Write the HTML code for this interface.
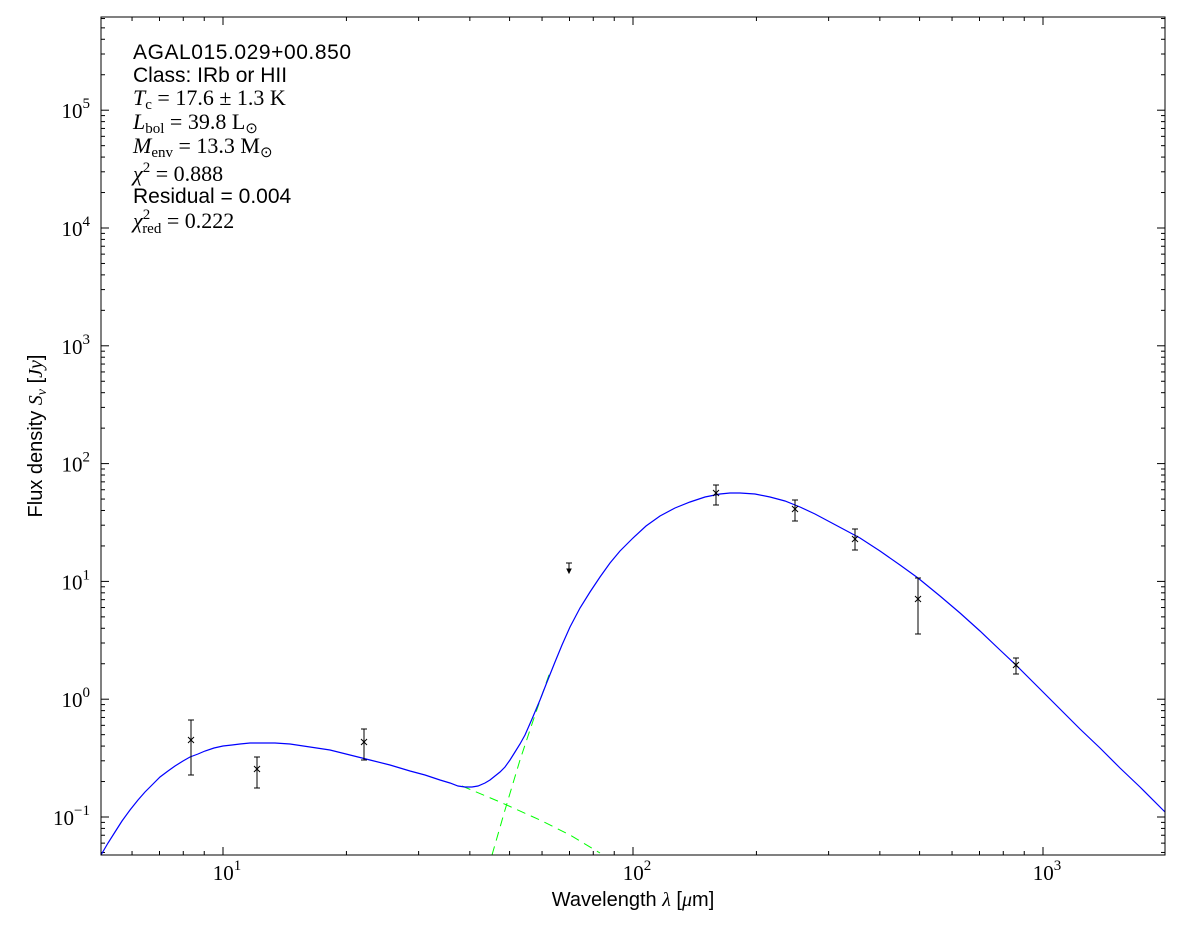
<!DOCTYPE html>
<html><head><meta charset="utf-8"><style>
body{margin:0;background:#fff;}
svg text{font-family:"Liberation Sans",sans-serif;}
svg text.s,svg tspan.s,#lbl text{font-family:"Liberation Serif",serif;}
.s{font-style:italic;}
</style></head><body>
<svg id="g" width="1200" height="933" xmlns="http://www.w3.org/2000/svg">
<rect x="0" y="0" width="1200" height="933" fill="#fff"/>
<g id="ticks" stroke="#000" stroke-width="1"></g>
<polyline fill="none" stroke="#00ff00" stroke-width="1" stroke-dasharray="9,6" points="462,786 500,802 540,820 570,835 600,853"/>
<polyline fill="none" stroke="#00ff00" stroke-width="1" stroke-dasharray="9,6" points="492,855 505,810 520,760 535,715 550,672"/>
<polyline fill="none" stroke="#0000ff" stroke-width="1.2" points="101,855 108,843 115,832 122,821 130,810 138,800 145,792 153,784 160,777 168,771 175,766 183,761 190,757 198,754 205,751 214,748 223,746 232,745 240,744 250,743 260,743 275,743 290,744 310,747 330,750 350,755 370,760 390,765 410,771 425,775 440,780 450,783 458,786 465,787 472,787 478,786 485,783 490,780 495,776 500,772 505,767 510,760 515,752 520,744 525,735 532,719 540,700 547,682 555,662 562,645 570,627 580,608 590,592 600,577 610,563 620,551 633,538 646,526 660,516 675,508 690,502 705,497 720,494 730,493 740,493 755,494 770,497 785,501 800,507 815,514 830,522 845,530 860,538 880,551 900,565 918,578 940,596 960,613 980,631 1000,650 1016,665 1040,689 1060,709 1080,729 1100,748 1120,768 1140,787 1165,812"/>
<g stroke="#000" stroke-width="1" fill="none" id="pts"></g>
<rect x="101" y="17" width="1064" height="838" fill="none" stroke="#000" stroke-width="1"/>
<g font-size="21">
<text x="133" y="59" textLength="218">AGAL015.029+00.850</text>
<text x="133" y="82">Class: IRb or HII</text>
<text x="133" y="105" class="s" font-size="22">T<tspan font-size="15" font-style="normal" dy="4">c</tspan><tspan font-style="normal" dy="-4"> = 17.6 ± 1.3 K</tspan></text>
<text x="133" y="129" class="s" font-size="22">L<tspan font-size="15" font-style="normal" dy="4">bol</tspan><tspan font-style="normal" dy="-4"> = 39.8 L</tspan><tspan font-size="15" font-style="normal" dy="4">⊙</tspan></text>
<text x="133" y="153" class="s" font-size="22">M<tspan font-size="15" font-style="normal" dy="4">env</tspan><tspan font-style="normal" dy="-4"> = 13.3 M</tspan><tspan font-size="15" font-style="normal" dy="4">⊙</tspan></text>
<text x="133" y="181" class="s" font-size="22">χ<tspan font-size="15" font-style="normal" dy="-9">2</tspan><tspan font-style="normal" dy="9"> = 0.888</tspan></text>
<text x="133" y="203">Residual = 0.004</text>
<text x="133" y="228" class="s" font-size="22">χ<tspan font-size="15" font-style="normal" dy="-9">2</tspan><tspan font-size="15" font-style="normal" dx="-8" dy="14">red</tspan><tspan font-style="normal" dy="-5"> = 0.222</tspan></text>
</g>
<text x="633" y="906" font-size="20" text-anchor="middle">Wavelength <tspan class="s">λ</tspan> [<tspan class="s">μ</tspan>m]</text>
<text transform="translate(42,436) rotate(-90)" font-size="20" text-anchor="middle">Flux density <tspan class="s">S<tspan font-size="14" dy="4">ν</tspan></tspan><tspan dy="-4"> [</tspan><tspan class="s">Jy</tspan>]</text>
<g id="lbl" font-size="21"></g>
</svg>
<script>
var NS="http://www.w3.org/2000/svg",T=document.getElementById('ticks'),L=document.getElementById('lbl'),P=document.getElementById('pts');
function ln(p,x1,y1,x2,y2){var e=document.createElementNS(NS,'line');e.setAttribute('x1',x1);e.setAttribute('y1',y1);e.setAttribute('x2',x2);e.setAttribute('y2',y2);p.appendChild(e);}
function tx(x,y,d,a){var e=document.createElementNS(NS,'text');e.setAttribute('x',x);e.setAttribute('y',y);e.setAttribute('text-anchor',a);e.innerHTML=d;L.appendChild(e);}
function X(v){return 223+410*(Math.log10(v)-1);}
function Y(v){return 817-117.8*(Math.log10(v)+1);}
for(var d=0;d<4;d++)for(var k=1;k<10;k++){var v=k*Math.pow(10,d),x=X(v);if(x<101||x>1165)continue;var len=k==1?8:4;ln(T,x,855,x,855-len);ln(T,x,17,x,17+len);if(k==1)tx(x+4,880,'10<tspan font-size="15" dy="-10">'+d+'</tspan>','middle');}
for(var d=-2;d<6;d++)for(var k=1;k<10;k++){var v=k*Math.pow(10,d),y=Y(v);if(y<17||y>855)continue;var len=k==1?8:4;ln(T,101,y,101+len,y);ln(T,1165,y,1165-len,y);if(k==1)tx(90,y+8,'10<tspan font-size="15" dy="-10">'+(d<0?'−'+(-d):d)+'</tspan>','end');}
var pts=[[191,740,720,775],[257,769,757,788],[364,742,729,760],[716,493,485,505],[795,509,500,521],[855,539,529,550],[918,599,578,634],[1016,665,658,674]];
pts.forEach(function(p){ln(P,p[0],p[2],p[0],p[3]);ln(P,p[0]-3,p[2],p[0]+3,p[2]);ln(P,p[0]-3,p[3],p[0]+3,p[3]);ln(P,p[0]-3,p[1]-3,p[0]+3,p[1]+3);ln(P,p[0]-3,p[1]+3,p[0]+3,p[1]-3);});
ln(P,566,563,572,563);ln(P,569,563,569,572);
var a=document.createElementNS(NS,'path');a.setAttribute('d','M567,569 L571,569 L569,573 Z');a.setAttribute('fill','#000');P.appendChild(a);
</script>
</body></html>
